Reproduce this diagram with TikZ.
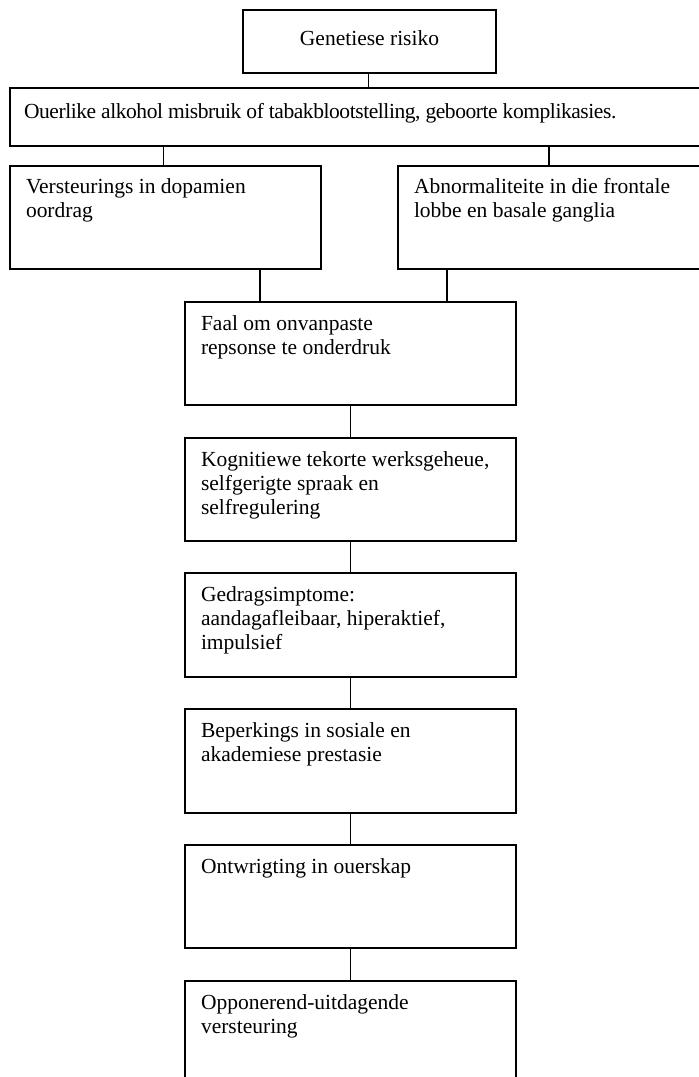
\documentclass[tikz,border=0pt]{standalone}
\usepackage{fontspec}
\setmainfont{Liberation Serif}
\begin{document}
\begin{tikzpicture}[x=1pt,y=-1pt,
  box/.style={draw=black, line width=1.3pt, inner sep=0pt, outer sep=0pt, anchor=north west},
  label/.style={anchor=base west, inner sep=0pt, outer sep=0pt, font=\fontsize{21.5}{24}\selectfont},
  link/.style={draw=black, line width=1.3pt}]
\useasboundingbox (0,0) rectangle (699,1077);
\clip (0,0) rectangle (699,1077);
\fill[white] (0,0) rectangle (699,1077);

% boxes (top-left corner, width, height)
\node[box, minimum width=253pt, minimum height=63pt] (gen) at (243,10) {};
\node[box, minimum width=690pt, minimum height=58pt] (risk) at (10,88) {};
\node[box, minimum width=311pt, minimum height=103pt] (dop) at (10,166) {};
\node[box, minimum width=302pt, minimum height=103pt] (abn) at (398,166) {};
\node[box, minimum width=331pt, minimum height=103pt] (faal) at (185,302) {};
\node[box, minimum width=331pt, minimum height=103pt] (kog) at (185,438) {};
\node[box, minimum width=331pt, minimum height=104pt] (ged) at (185,573) {};
\node[box, minimum width=331pt, minimum height=104pt] (bep) at (185,709) {};
\node[box, minimum width=331pt, minimum height=103pt] (ont) at (185,845) {};
\node[box, minimum width=331pt, minimum height=110pt] (opp) at (185,981) {};

% texts
\node[anchor=base, inner sep=0pt, font=\fontsize{21.5}{24}\selectfont] (tgen) at ([yshift=-35pt]gen.north) {Genetiese risiko};
\node[label] (trisk) at ([xshift=14pt,yshift=-30pt]risk.north west) {\addfontfeature{LetterSpace=-2}Ouerlike alkohol misbruik of tabakblootstelling, geboorte komplikasies.};
\node[label] (tdop) at ([xshift=16pt,yshift=-27pt]dop.north west) {\parbox[t]{290pt}{\raggedright Versteurings in dopamien\\oordrag}};
\node[label] (tabn) at ([xshift=16pt,yshift=-27pt]abn.north west) {\parbox[t]{290pt}{\raggedright Abnormaliteite in die frontale\\lobbe en basale ganglia}};
\node[label] (tfaal) at ([xshift=16pt,yshift=-28pt]faal.north west) {\parbox[t]{310pt}{\raggedright Faal om onvanpaste\\repsonse te onderdruk}};
\node[label] (tkog) at ([xshift=16pt,yshift=-28pt]kog.north west) {\parbox[t]{310pt}{\raggedright Kognitiewe tekorte werksgeheue,\\selfgerigte spraak en\\selfregulering}};
\node[label] (tged) at ([xshift=16pt,yshift=-28pt]ged.north west) {\parbox[t]{310pt}{\raggedright Gedragsimptome:\\aandagafleibaar, hiperaktief,\\impulsief}};
\node[label] (tbep) at ([xshift=16pt,yshift=-28pt]bep.north west) {\parbox[t]{310pt}{\raggedright Beperkings in sosiale en\\akademiese prestasie}};
\node[label] (tont) at ([xshift=16pt,yshift=-28pt]ont.north west) {Ontwrigting in ouerskap};
\node[label] (topp) at ([xshift=16pt,yshift=-28pt]opp.north west) {\parbox[t]{310pt}{\raggedright Opponerend-uitdagende\\versteuring}};

% connectors
\draw[link] ([xshift=-1pt]gen.south) -- ([xshift=-1pt]gen.south |- risk.north);
\draw[link] ([xshift=-2pt]dop.north) -- ([xshift=-2pt]dop.north |- risk.south);
\draw[link] (abn.north) -- (abn.north |- risk.south);
\draw[link] ([xshift=75pt]faal.north west) -- ([xshift=75pt]faal.north west |- dop.south);
\draw[link] ([xshift=262pt]faal.north west) -- ([xshift=262pt]faal.north west |- abn.south);
\draw[link] (faal.south) -- (kog.north);
\draw[link] (kog.south) -- (ged.north);
\draw[link] (ged.south) -- (bep.north);
\draw[link] (bep.south) -- (ont.north);
\draw[link] (ont.south) -- (opp.north);
\end{tikzpicture}
\end{document}
